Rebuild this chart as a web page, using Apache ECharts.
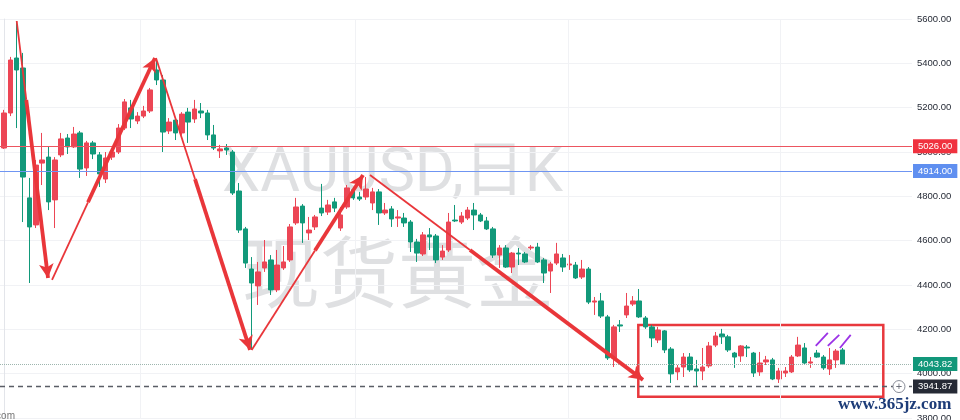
<!DOCTYPE html>
<html><head><meta charset="utf-8">
<script src="https://cdn.jsdelivr.net/npm/echarts@6/dist/echarts.min.js"></script>
<style>html,body{margin:0;padding:0;background:#fff}#c{width:960px;height:420px}</style>
</head><body><div id="c"></div>
<script>
// ---- data (daily XAUUSD) ----
const openP = [
5018,5176,5424,5379,4793,4671,4950,4977,4784,4987,
5063,5023,5086,4928,5041,4987,4878,4977,5000,5108,
5199,5140,5162,5185,5370,5325,5095,5144,5086,5180,
5149,5185,5176,5077,5005,5018,5000,4824,4653,4472,
4396,4477,4513,4378,4477,4513,4680,4756,4635,4662,
4747,4729,4775,4657,4752,4829,4797,4797,4770,4820,
4725,4743,4702,4702,4684,4594,4540,4626,4621,4526,
4558,4693,4684,4702,4738,4716,4689,4653,4535,4567,
4481,4544,4540,4567,4571,4513,4463,4499,4522,4490,
4490,4436,4472,4323,4328,4256,4071,4220,4265,4314,
4328,4251,4211,4152,4193,4111,4008,4030,4075,4021,
4012,4035,4129,4179,4166,4093,4080,4120,4093,4008,
4053,4062,3976,4003,4008,4080,4116,4048,4093,4075,
4021,4062,4107];
const closeP = [
5176,5415,5370,4887,4662,4941,4964,4775,4964,5059,
5023,5081,4923,5041,4991,4901,4973,5000,5108,5226,
5149,5162,5185,5280,5325,5090,5135,5086,5171,5135,
5194,5176,5077,5018,5014,5009,4815,4648,4499,4409,
4459,4504,4378,4490,4504,4662,4752,4680,4648,4707,
4725,4761,4747,4716,4838,4793,4788,4833,4820,4725,
4738,4698,4707,4680,4594,4544,4626,4617,4513,4553,
4684,4689,4711,4738,4716,4689,4653,4535,4567,4481,
4544,4540,4504,4571,4504,4454,4495,4540,4481,4495,
4432,4472,4323,4328,4260,4071,4211,4215,4305,4328,
4256,4211,4161,4197,4107,3999,4026,4075,4017,4012,
4030,4125,4170,4166,4107,4075,4125,4116,4003,4048,
4062,3976,4012,4012,4075,4129,4048,4053,4075,4026,
4062,4102,4043.82];
const lowP = [
5014,5162,5108,4684,4409,4657,4851,4738,4657,4977,
4991,5018,4883,4892,4968,4842,4860,4964,4991,5099,
5108,5126,5153,5176,5302,5000,5081,5054,5077,5041,
5131,5153,5054,5009,4973,4987,4806,4635,4477,4107,
4310,4459,4355,4368,4468,4504,4671,4590,4603,4648,
4711,4716,4729,4644,4743,4784,4779,4784,4738,4671,
4716,4662,4662,4662,4549,4504,4531,4558,4499,4513,
4549,4684,4675,4693,4648,4684,4648,4522,4477,4477,
4454,4490,4499,4558,4499,4409,4364,4490,4459,4468,
4427,4427,4314,4265,4251,4062,4030,4188,4251,4305,
4251,4202,4120,4138,4093,3958,3971,3985,4008,3941.87,
3971,4026,4120,4134,4098,4026,4053,4075,3985,3990,
4039,3971,3958,3985,4003,4075,4044,4026,4071,4017,
3994,4026,4039];
const highP = [
5190,5429,5591,5447,4883,4964,5086,5023,4977,5086,
5081,5113,5095,5050,5050,5000,5000,5018,5126,5239,
5235,5180,5208,5289,5424,5347,5153,5158,5180,5199,
5235,5221,5190,5122,5032,5036,5009,4860,4662,4526,
4504,4603,4535,4558,4576,4675,4793,4765,4707,4716,
4856,4784,4793,4752,4851,4842,4820,4887,4838,4833,
4770,4756,4738,4725,4693,4608,4639,4657,4630,4580,
4725,4761,4729,4752,4770,4725,4707,4662,4580,4580,
4549,4567,4549,4580,4590,4522,4504,4590,4540,4535,
4504,4513,4481,4346,4364,4265,4220,4242,4364,4350,
4382,4260,4220,4211,4197,4120,4039,4093,4093,4062,
4116,4143,4188,4202,4175,4098,4129,4129,4098,4098,
4080,4071,4026,4030,4084,4166,4138,4075,4107,4084,
4116,4111,4116];

const resistanceLevels = [5026, 4914];
const lastPrice = 4043.82;
const lowLevel = 3941.87;
const yTickMin = 3800, yTickMax = 5600, yTickStep = 200;

// drawings, in (bar index, price)
const arrowTails = [
  [[2.0,5591],[3.51,5235]],
  [[7.56,4423],[13.22,4773]],
  [[23.93,5424],[30.07,4878]],
  [[38.99,4107],[48.96,4556]],
  [[57.62,4896],[73.36,4558]]
];
const arrowHeads = [
  [[3.51,5235],[6.93,4432]],
  [[13.22,4773],[23.77,5424]],
  [[30.07,4878],[38.73,4107]],
  [[48.96,4556],[56.52,4896]],
  [[73.36,4558],[100.6,3972]]
];
const purpleTicks = [
  [[127.8,4125],[129.7,4184]],
  [[129.7,4125],[131.5,4175]],
  [[131.6,4116],[133.3,4175]]
];
const rangeBox = [[99.86,4220],[138.43,3896]];
const monthLines = [21.4, 55.3, 88.8, 122.2];

// ---- chart ----
const UP = '#ec4655', DOWN = '#12997a', ARROW = '#e9363a';
const candles = openP.map((o,i)=>[i, o, closeP[i], lowP[i], highP[i]]);
const labelBase = {show:true, position:'end', distance:1, color:'#fff', fontSize:9.5,
  fontFamily:'Liberation Sans, Arial', padding:[2,5,2,5]};

const chart = echarts.init(document.getElementById('c'), null, {renderer:'canvas'});
chart.setOption({
  animation:false,
  backgroundColor:'#ffffff',
  grid:{left:0, right:48, top:19, bottom:2, outerBoundsMode:'none'},
  xAxis:{type:'value', min:-0.63, max:142.95, axisLine:{show:false}, axisTick:{show:false},
    axisLabel:{show:false}, splitLine:{show:false}},
  yAxis:{type:'value', position:'right', min:yTickMin, max:yTickMax, interval:yTickStep,
    axisLine:{show:true, lineStyle:{color:'#e3e5ea'}}, axisTick:{show:false},
    axisLabel:{color:'#1f2430', fontSize:9.5, margin:5, fontFamily:'Liberation Sans, Arial',
      formatter:v=>v.toFixed(2)},
    splitLine:{lineStyle:{color:'#f1f2f5'}}},
  graphic:[
    {type:'text', x:222, y:176, silent:true, style:{text:'XAUUSD,日K',
      font:'61px Roboto, "Noto Sans CJK SC", sans-serif', fill:'rgba(150,152,160,0.3)',
      align:'left', verticalAlign:'middle', textAlign:'left', textVerticalAlign:'middle'}},
    {type:'text', x:242, y:272, silent:true, style:{text:'现货黄金',
      font:'78px "Noto Sans CJK SC", sans-serif', fill:'rgba(150,152,160,0.3)',
      align:'left', verticalAlign:'middle', textAlign:'left', textVerticalAlign:'middle'}},
    {type:'text', x:838, y:405, z:100, silent:true, style:{text:'www.365jz.com',
      font:'bold 17px "Liberation Serif", serif', fill:'#1d3c78',
      align:'left', verticalAlign:'middle', textAlign:'left', textVerticalAlign:'middle'}},
    {type:'text', x:15, y:416, z:100, silent:true, style:{text:'.com',
      font:'10px "Liberation Sans", sans-serif', fill:'#777',
      align:'right', verticalAlign:'middle', textAlign:'right', textVerticalAlign:'middle'}}
  ],
  series:[
    {type:'candlestick', data:candles, encode:{x:0, y:[1,2,3,4]}, barWidth:5,
      itemStyle:{color:UP, color0:DOWN, borderColor:UP, borderColor0:DOWN, borderWidth:1}},
    {type:'line', data:[], silent:true,
      markLine:{silent:true, symbol:['none','none'], label:{show:false}, data:[
        ...monthLines.map(v=>({xAxis:v, lineStyle:{color:'#f1f2f5', width:1, type:'solid'}})),
        {yAxis:resistanceLevels[0], lineStyle:{color:'#ec5560', width:1, type:'solid'},
          label:Object.assign({}, labelBase, {formatter:resistanceLevels[0].toFixed(2), backgroundColor:'#f0323f'})},
        {yAxis:resistanceLevels[1], lineStyle:{color:'#6f95f2', width:1, type:'solid'},
          label:Object.assign({}, labelBase, {formatter:resistanceLevels[1].toFixed(2), backgroundColor:'#5f8ff0'})},
        {yAxis:lastPrice, lineStyle:{color:'#9db5ae', width:1, type:'dotted'},
          label:Object.assign({}, labelBase, {formatter:lastPrice.toFixed(2), backgroundColor:'#11977a'})},
        {yAxis:lowLevel, lineStyle:{color:'#5a5d66', width:1.3, type:[5,4]},
          label:Object.assign({}, labelBase, {formatter:lowLevel.toFixed(2), backgroundColor:'#262a35'})}
      ]},
      markArea:{silent:true, itemStyle:{color:'rgba(0,0,0,0)', borderColor:'#e8383d', borderWidth:2.5},
        data:[[{coord:rangeBox[0]},{coord:rangeBox[1]}]]},
      markPoint:{silent:true, data:[{coord:[140.9, lowLevel], symbol:'circle', symbolSize:12,
        itemStyle:{color:'#fff', borderColor:'#8a8e99', borderWidth:1},
        label:{show:true, position:'inside', formatter:'+', color:'#6a6e79', fontSize:11}}]}
    },
    {type:'line', data:[], silent:true,
      markLine:{silent:true, symbol:['none','none'], label:{show:false}, data:[
        ...arrowTails.map(s=>[{coord:s[0], lineStyle:{color:ARROW, width:1.8, type:'solid'}},{coord:s[1]}]),
        ...arrowHeads.map(s=>[{coord:s[0], symbol:'none', lineStyle:{color:ARROW, width:3.8, type:'solid'}},
          {coord:s[1], symbol:'arrow', symbolSize:[11,14]}]),
        ...purpleTicks.map(s=>[{coord:s[0], lineStyle:{color:'#9b32e6', width:1.8, type:'solid'}},{coord:s[1]}])
      ]}
    }
  ]
});
</script>
</body></html>
